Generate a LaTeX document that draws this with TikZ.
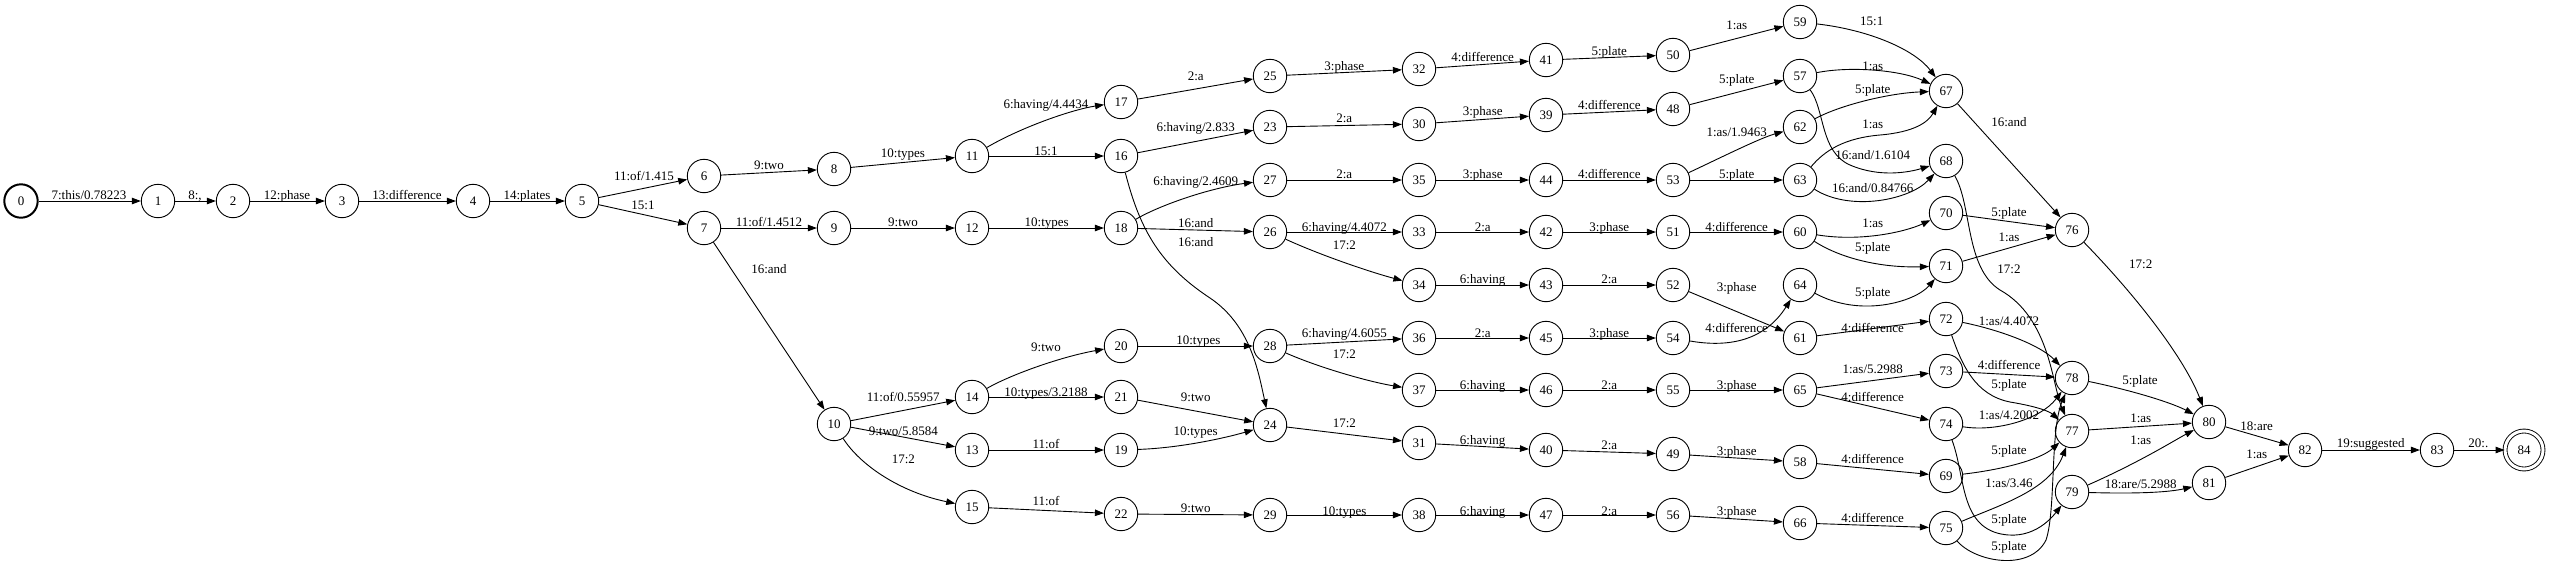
\documentclass[tikz,border=0pt]{standalone}
\usepackage{fontspec}
\setmainfont{Liberation Serif}
\usetikzlibrary{arrows.meta}
\newcommand\statenode[4][]{\node[st,#1] (n#2) at (#3,#4) {#2};}
\newcommand\edgelabel[4]{\node[lbl] (#1) at (#2,#3) {#4};}
\begin{document}
\begin{tikzpicture}[x=1pt,y=-1pt,
  st/.style={circle,draw,line width=0.9pt,minimum size=33.4pt,inner sep=0pt,font=\fontsize{13}{15}\selectfont},
  edge/.style={line width=0.9pt,-{Triangle[length=9pt,width=6.5pt]}},
  lbl/.style={inner sep=0pt,anchor=base,yshift=-5pt,font=\fontsize{13}{15}\selectfont}]
\useasboundingbox (0,0) rectangle (2550,566);
% states
\statenode[line width=2pt]{0}{21}{201}
\statenode{1}{158}{201}
\statenode{2}{233}{201}
\statenode{3}{342}{201}
\statenode{4}{473}{201}
\statenode{5}{582}{201}
\statenode{6}{704}{176}
\statenode{7}{704}{228}
\statenode{8}{834}{169}
\statenode{9}{834}{228}
\statenode{10}{834}{424}
\statenode{11}{972}{156}
\statenode{12}{972}{228}
\statenode{13}{972}{450}
\statenode{14}{972}{397}
\statenode{15}{972}{507}
\statenode{16}{1121}{156}
\statenode{17}{1121}{102}
\statenode{18}{1121}{228}
\statenode{19}{1121}{450}
\statenode{20}{1121}{346}
\statenode{21}{1121}{397}
\statenode{22}{1121}{514}
\statenode{23}{1270}{127}
\statenode{24}{1270}{425}
\statenode{25}{1270}{76}
\statenode{26}{1270}{232}
\statenode{27}{1270}{180}
\statenode{28}{1270}{346}
\statenode{29}{1270}{515}
\statenode{30}{1419}{124}
\statenode{31}{1419}{443}
\statenode{32}{1419}{69}
\statenode{33}{1419}{232}
\statenode{34}{1419}{285}
\statenode{35}{1419}{180}
\statenode{36}{1419}{338}
\statenode{37}{1419}{390}
\statenode{38}{1419}{515}
\statenode{39}{1546}{115}
\statenode{40}{1546}{450}
\statenode{41}{1546}{60}
\statenode{42}{1546}{232}
\statenode{43}{1546}{285}
\statenode{44}{1546}{180}
\statenode{45}{1546}{338}
\statenode{46}{1546}{390}
\statenode{47}{1546}{515}
\statenode{48}{1673}{109}
\statenode{49}{1673}{454}
\statenode{50}{1673}{55}
\statenode{51}{1673}{232}
\statenode{52}{1673}{285}
\statenode{53}{1673}{180}
\statenode{54}{1673}{338}
\statenode{55}{1673}{390}
\statenode{56}{1673}{515}
\statenode{57}{1800}{76}
\statenode{58}{1800}{462}
\statenode{59}{1800}{22}
\statenode{60}{1800}{232}
\statenode{61}{1800}{338}
\statenode{62}{1800}{127}
\statenode{63}{1800}{180}
\statenode{64}{1800}{285}
\statenode{65}{1800}{390}
\statenode{66}{1800}{523}
\statenode{67}{1946}{91}
\statenode{68}{1946}{161}
\statenode{69}{1946}{476}
\statenode{70}{1946}{213}
\statenode{71}{1946}{266}
\statenode{72}{1946}{319}
\statenode{73}{1946}{371}
\statenode{74}{1946}{424}
\statenode{75}{1946}{528}
\statenode{76}{2072}{230}
\statenode{77}{2072}{431}
\statenode{78}{2072}{378}
\statenode{79}{2072}{492}
\statenode{80}{2209}{422}
\statenode{81}{2209}{483}
\statenode{82}{2305}{450}
\statenode{83}{2437}{450}
\statenode[minimum size=38pt,double,double distance=3pt]{84}{2524}{450}
% straight transitions
\foreach \a/\b in {0/1,1/2,2/3,3/4,4/5,5/6,5/7,6/8,7/9,7/10,8/11,9/12,11/16,12/18,
  17/25,16/23,18/26,23/30,25/32,27/35,26/33,10/14,10/13,14/21,13/19,15/22,20/28,
  21/24,22/29,28/36,24/31,29/38,32/41,30/39,35/44,33/42,34/43,36/45,37/46,31/40,
  38/47,41/50,39/48,44/53,42/51,43/52,45/54,46/55,40/49,47/56,50/59,48/57,53/63,
  51/60,52/61,55/65,49/58,56/66,67/76,70/76,71/76,65/73,65/74,61/72,58/69,66/75,
  73/78,77/80,80/82,81/82,82/83,83/84}
  \draw[edge] (n\a) -- (n\b);
% curved transitions
\draw[edge] (n11) .. controls (1020,128) and (1070,110) .. (n17);
\draw[edge] (n18) .. controls (1160,205) and (1210,188) .. (n27);
\draw[edge] (n16) .. controls (1140,230) and (1160,265) .. (1210,298) .. controls (1250,325) and (1258,370) .. (n24);
\draw[edge] (n10) .. controls (860,465) and (900,492) .. (n15);
\draw[edge] (n14) .. controls (1010,375) and (1060,357) .. (n20);
\draw[edge] (n19) .. controls (1180,448) and (1225,438) .. (n24);
\draw[edge] (n26) .. controls (1320,255) and (1370,272) .. (n34);
\draw[edge] (n28) .. controls (1320,368) and (1370,382) .. (n37);
\draw[edge] (n53) .. controls (1720,158) and (1760,138) .. (n62);
\draw[edge] (n57) .. controls (1850,66) and (1900,70) .. (n67);
\draw[edge] (n59) .. controls (1870,30) and (1915,50) .. (n67);
\draw[edge] (n62) .. controls (1840,105) and (1890,93) .. (n67);
\draw[edge] (n63) .. controls (1825,150) and (1845,138) .. (1880,135) .. controls (1915,132) and (1928,122) .. (n67);
\draw[edge] (n57) .. controls (1825,110) and (1820,152) .. (1850,165) .. controls (1880,178) and (1910,172) .. (n68);
\draw[edge] (n63) .. controls (1850,212) and (1910,200) .. (n68);
\draw[edge] (n60) .. controls (1860,242) and (1905,232) .. (n70);
\draw[edge] (n60) .. controls (1840,258) and (1880,268) .. (n71);
\draw[edge] (n64) .. controls (1860,318) and (1915,302) .. (n71);
\draw[edge] (n54) .. controls (1730,348) and (1765,340) .. (n64);
\draw[edge] (n68) .. controls (1972,205) and (1965,268) .. (2000,290) .. controls (2050,318) and (2052,385) .. (n77);
\draw[edge] (n72) .. controls (2000,330) and (2040,345) .. (n78);
\draw[edge] (n72) .. controls (1962,365) and (1975,395) .. (2010,402) .. controls (2040,407) and (2050,412) .. (n77);
\draw[edge] (n74) .. controls (1995,432) and (2040,420) .. (n78);
\draw[edge] (n74) .. controls (1965,475) and (1960,522) .. (1997,533) .. controls (2030,542) and (2050,520) .. (n79);
\draw[edge] (n69) .. controls (2000,470) and (2040,460) .. (n77);
\draw[edge] (n75) .. controls (2000,505) and (2050,490) .. (n77);
\draw[edge] (n75) .. controls (1975,562) and (2030,572) .. (2046,540) .. controls (2056,510) and (2050,430) .. (n78);
\draw[edge] (n79) .. controls (2140,462) and (2175,440) .. (n80);
\draw[edge] (n79) .. controls (2140,494) and (2170,492) .. (n81);
\draw[edge] (n76) .. controls (2140,300) and (2185,360) .. (n80);
\draw[edge] (n78) .. controls (2130,390) and (2170,402) .. (n80);
% labels
\edgelabel{l0}{89}{194.3}{7:this/0.78223}
\edgelabel{l1}{195}{194.3}{8:,}
\edgelabel{l2}{287}{194.3}{12:phase}
\edgelabel{l3}{407}{194.3}{13:difference}
\edgelabel{l4}{527}{194.3}{14:plates}
\edgelabel{l5}{644}{175}{11:of/1.415}
\edgelabel{l6}{643}{204.3}{15:1}
\edgelabel{l7}{769}{164.3}{9:two}
\edgelabel{l8}{769}{221}{11:of/1.4512}
\edgelabel{l9}{769}{268.3}{16:and}
\edgelabel{l10}{903}{152.7}{10:types}
\edgelabel{l11}{1046}{103.3}{6:having/4.4434}
\edgelabel{l12}{1046}{150}{15:1}
\edgelabel{l13}{903}{221.7}{9:two}
\edgelabel{l14}{1046.7}{221.7}{10:types}
\edgelabel{l15}{1195.7}{75}{2:a}
\edgelabel{l16}{1195.7}{126.7}{6:having/2.833}
\edgelabel{l17}{1195.7}{180.3}{6:having/2.4609}
\edgelabel{l18}{1195.7}{222.7}{16:and}
\edgelabel{l19}{1195.7}{241.7}{16:and}
\edgelabel{l20}{1046}{346.7}{9:two}
\edgelabel{l21}{903.3}{396.7}{11:of/0.55957}
\edgelabel{l22}{1046}{391.7}{10:types/3.2188}
\edgelabel{l23}{903.3}{430}{9:two/5.8584}
\edgelabel{l24}{903.3}{458.3}{17:2}
\edgelabel{l25}{1046}{443.3}{11:of}
\edgelabel{l26}{1046}{500}{11:of}
\edgelabel{l27}{1198.3}{339}{10:types}
\edgelabel{l28}{1195.7}{396.7}{9:two}
\edgelabel{l29}{1195.7}{430}{10:types}
\edgelabel{l30}{1195.7}{507.7}{9:two}
\edgelabel{l31}{1344.3}{65}{3:phase}
\edgelabel{l32}{1482.7}{56}{4:difference}
\edgelabel{l33}{1609.3}{50}{5:plate}
\edgelabel{l34}{1344.3}{117.7}{2:a}
\edgelabel{l35}{1482.7}{110.7}{3:phase}
\edgelabel{l36}{1609.3}{104}{4:difference}
\edgelabel{l37}{1344.3}{173.7}{2:a}
\edgelabel{l38}{1482.7}{173.7}{3:phase}
\edgelabel{l39}{1609.3}{173.7}{4:difference}
\edgelabel{l40}{1344.3}{226.7}{6:having/4.4072}
\edgelabel{l41}{1344.3}{244}{17:2}
\edgelabel{l42}{1482.7}{226.7}{2:a}
\edgelabel{l43}{1609.3}{226.7}{3:phase}
\edgelabel{l44}{1482.7}{278.7}{6:having}
\edgelabel{l45}{1609.3}{278.7}{2:a}
\edgelabel{l46}{1344.3}{332.3}{6:having/4.6055}
\edgelabel{l47}{1344.3}{353.3}{17:2}
\edgelabel{l48}{1482.7}{332.3}{2:a}
\edgelabel{l49}{1609.3}{332.3}{3:phase}
\edgelabel{l50}{1482.7}{384}{6:having}
\edgelabel{l51}{1609.3}{384}{2:a}
\edgelabel{l52}{1344.3}{422.7}{17:2}
\edgelabel{l53}{1482.7}{439}{6:having}
\edgelabel{l54}{1609.3}{444.3}{2:a}
\edgelabel{l55}{1344.3}{510}{10:types}
\edgelabel{l56}{1482.7}{510}{6:having}
\edgelabel{l57}{1609.3}{510}{2:a}
\edgelabel{l58}{1736.7}{24}{1:as}
\edgelabel{l59}{1871.7}{20}{15:1}
\edgelabel{l60}{1736.7}{78.3}{5:plate}
\edgelabel{l61}{1872.7}{65}{1:as}
\edgelabel{l62}{1872.7}{88.3}{5:plate}
\edgelabel{l63}{1736.7}{131.7}{1:as/1.9463}
\edgelabel{l64}{1872.7}{123.3}{1:as}
\edgelabel{l65}{1872.7}{154}{16:and/1.6104}
\edgelabel{l66}{1736.7}{173.7}{5:plate}
\edgelabel{l67}{1872.7}{187.7}{16:and/0.84766}
\edgelabel{l68}{2009}{121.7}{16:and}
\edgelabel{l69}{1736.7}{226.7}{4:difference}
\edgelabel{l70}{1872.7}{222.7}{1:as}
\edgelabel{l71}{1872.7}{246}{5:plate}
\edgelabel{l72}{2009}{211.7}{5:plate}
\edgelabel{l73}{2009}{236}{1:as}
\edgelabel{l74}{2009}{268.3}{17:2}
\edgelabel{l75}{1736.7}{286.7}{3:phase}
\edgelabel{l76}{1872.7}{291.7}{5:plate}
\edgelabel{l77}{1736.7}{327.3}{4:difference}
\edgelabel{l78}{1872.7}{327.3}{4:difference}
\edgelabel{l79}{2009}{320}{1:as/4.4072}
\edgelabel{l80}{1872.7}{368.3}{1:as/5.2988}
\edgelabel{l81}{2009}{364.3}{4:difference}
\edgelabel{l82}{2009}{383.3}{5:plate}
\edgelabel{l83}{1736.7}{384}{3:phase}
\edgelabel{l84}{1872.7}{396}{4:difference}
\edgelabel{l85}{2009}{414}{1:as/4.2002}
\edgelabel{l86}{1736.7}{450}{3:phase}
\edgelabel{l87}{1872.7}{458.3}{4:difference}
\edgelabel{l88}{2009}{449.3}{5:plate}
\edgelabel{l89}{2009}{482.3}{1:as/3.46}
\edgelabel{l90}{1736.7}{510.7}{3:phase}
\edgelabel{l91}{1872.7}{517.3}{4:difference}
\edgelabel{l92}{2009}{518.3}{5:plate}
\edgelabel{l93}{2009}{545}{5:plate}
\edgelabel{l94}{2140.7}{263.3}{17:2}
\edgelabel{l95}{2140}{379}{5:plate}
\edgelabel{l96}{2140.7}{417.3}{1:as}
\edgelabel{l97}{2140.7}{439}{1:as}
\edgelabel{l98}{2140.7}{483.3}{18:are/5.2988}
\edgelabel{l99}{2256.7}{425}{18:are}
\edgelabel{l100}{2256.7}{453.3}{1:as}
\edgelabel{l101}{2370.7}{442.7}{19:suggested}
\edgelabel{l102}{2478.3}{442.7}{20:.}
\end{tikzpicture}
\end{document}
